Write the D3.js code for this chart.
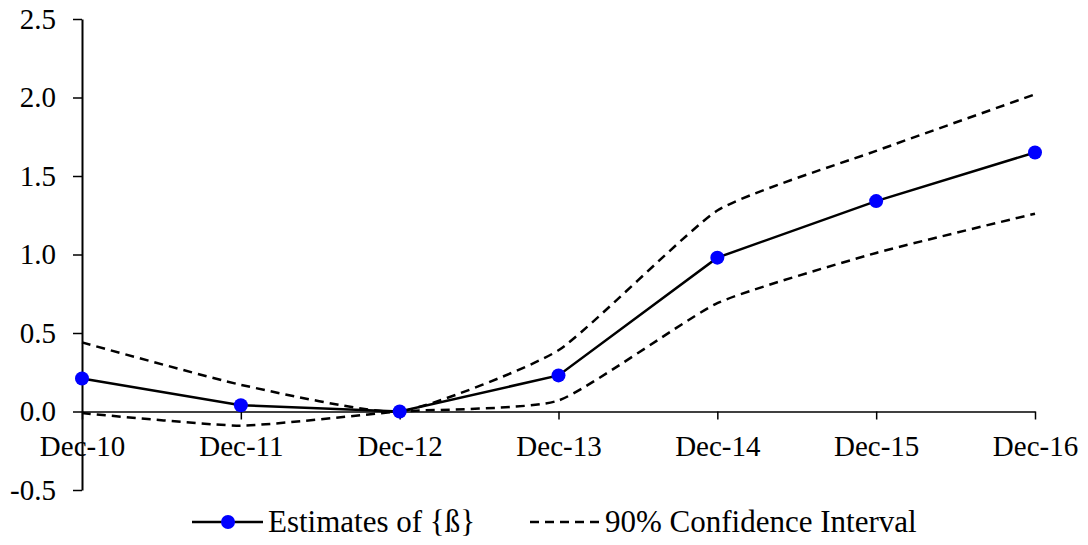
<!DOCTYPE html>
<html>
<head>
<meta charset="utf-8">
<script src="https://cdn.jsdelivr.net/npm/d3@7"></script>
<style>
  body { margin: 0; background: #fff; }
  svg text { font-family: "Liberation Serif", "Times New Roman", Times, "DejaVu Serif", serif; }
</style>
</head>
<body>
<svg id="chart" width="1088" height="545"></svg>
<script>
var dates = ["Dec-10", "Dec-11", "Dec-12", "Dec-13", "Dec-14", "Dec-15", "Dec-16"];
var estimates = [0.21, 0.04, 0.0, 0.23, 0.98, 1.34, 1.65];
var upper = [0.44, 0.17, 0.0, 0.39, 1.28, 1.66, 2.02];
var lower = [-0.01, -0.09, 0.0, 0.07, 0.69, 1.01, 1.26];
var yTicks = [-0.5, 0, 0.5, 1.0, 1.5, 2.0, 2.5];

var dims = { width: 1088, height: 545, left: 82, right: 1035, top: 19, bottom: 490 };
var serif = "'Liberation Serif', 'Times New Roman', Times, serif";

var svg = d3.select("#chart");

var xScale = d3.scalePoint()
    .domain(dates)
    .range([dims.left, dims.right]);

var yScale = d3.scaleLinear()
    .domain([-0.5, 2.5])
    .range([dims.bottom, dims.top]);

// y axis
var yAxis = svg.append("g")
    .attr("transform", "translate(" + dims.left + ",0)")
    .call(d3.axisLeft(yScale).tickValues(yTicks).tickSize(9).tickSizeOuter(0).tickPadding(17)
        .tickFormat(function(d) { return d.toFixed(1); }));
yAxis.attr("font-family", serif).attr("font-size", 29);
yAxis.select(".domain").attr("stroke", "#000").attr("stroke-width", 2);
yAxis.selectAll(".tick line").attr("stroke", "#000").attr("stroke-width", 1.5);
yAxis.selectAll("text").attr("fill", "#000");

// x axis at zero
var xAxis = svg.append("g")
    .attr("transform", "translate(0," + yScale(0) + ")")
    .call(d3.axisBottom(xScale).tickSize(8).tickSizeOuter(0).tickPadding(16));
xAxis.attr("font-family", serif).attr("font-size", 29);
xAxis.select(".domain").attr("stroke", "#000").attr("stroke-width", 1.5);
xAxis.selectAll(".tick line").attr("stroke", "#000").attr("stroke-width", 1.5);
xAxis.selectAll("text").attr("fill", "#000");

var idx = d3.range(dates.length);

var smooth = d3.line()
    .x(function(i) { return xScale(dates[i]); })
    .curve(d3.curveCardinal.tension(0.5));

svg.append("path")
    .datum(idx)
    .attr("fill", "none").attr("stroke", "#000").attr("stroke-width", 2.5)
    .attr("stroke-dasharray", "9,6")
    .attr("d", smooth.y(function(i) { return yScale(upper[i]); }));

svg.append("path")
    .datum(idx)
    .attr("fill", "none").attr("stroke", "#000").attr("stroke-width", 2.5)
    .attr("stroke-dasharray", "9,6")
    .attr("d", smooth.y(function(i) { return yScale(lower[i]); }));

var line = d3.line()
    .x(function(i) { return xScale(dates[i]); })
    .y(function(i) { return yScale(estimates[i]); });

svg.append("path")
    .datum(idx)
    .attr("fill", "none").attr("stroke", "#000").attr("stroke-width", 2.5)
    .attr("d", line);

svg.selectAll(".dot")
    .data(idx)
    .enter()
    .append("circle")
    .attr("class", "dot")
    .attr("cx", function(i) { return xScale(dates[i]); })
    .attr("cy", function(i) { return yScale(estimates[i]); })
    .attr("r", 7)
    .attr("fill", "#0000ff");

// legend
var legend = svg.append("g").attr("transform", "translate(0,522)")
    .attr("font-family", serif).attr("font-size", 31);
legend.append("line").attr("x1", 192).attr("x2", 263).attr("y1", 0).attr("y2", 0)
    .attr("stroke", "#000").attr("stroke-width", 2.5);
legend.append("circle").attr("cx", 228).attr("cy", 0).attr("r", 7).attr("fill", "#0000ff");
legend.append("text").attr("x", 268).attr("y", 10)
    .text("Estimates of {ß}");
legend.append("line").attr("x1", 530).attr("x2", 601).attr("y1", 0).attr("y2", 0)
    .attr("stroke", "#000").attr("stroke-width", 2.5).attr("stroke-dasharray", "9,6");
legend.append("text").attr("x", 605).attr("y", 10)
    .text("90% Confidence Interval");
</script>
</body>
</html>
